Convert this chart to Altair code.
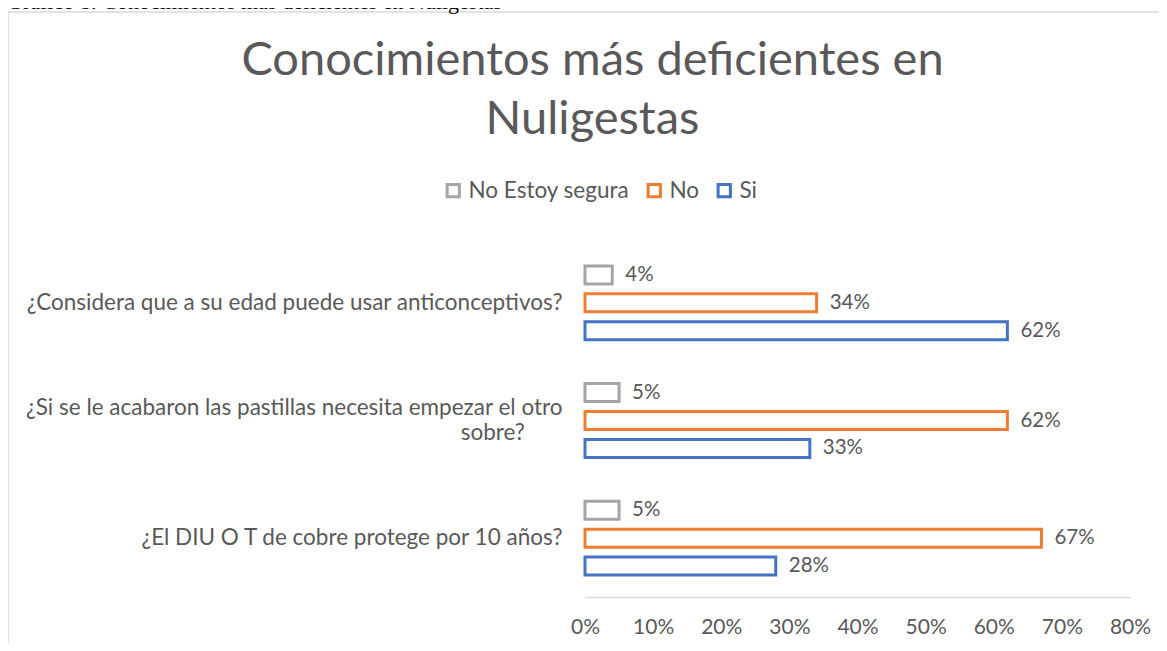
import json
import altair as alt
import pandas as pd

categories = [
    "¿Considera que a su edad puede usar anticonceptivos?",
    "¿Si se le acabaron las pastillas necesita empezar el otro sobre?",
    "¿El DIU O T de cobre protege por 10 años?",
]
series = ["No Estoy segura", "No", "Si"]
no_estoy_segura = [0.04, 0.05, 0.05]
no_vals = [0.34, 0.62, 0.67]
si_vals = [0.62, 0.33, 0.28]
colors = ["#A5A5A5", "#ED7D31", "#4472C4"]
x_ticks = [0.0, 0.1, 0.2, 0.3, 0.4, 0.5, 0.6, 0.7, 0.8]
title_lines = ["Conocimientos más deficientes en", "Nuligestas"]
caption = "Gráfico 8: Conocimientos más deficientes en Nuligestas"

rows = []
for s, vals in zip(series, [no_estoy_segura, no_vals, si_vals]):
    for c, v in zip(categories, vals):
        rows.append({"pregunta": c, "serie": s, "valor": v})
df = pd.DataFrame(rows)

FONT = "Lato"
TXT = "#595959"
FS = 20.5
FS_CAT = 22.5
W, H = 545, 353

wrapped = categories[1]
label_expr = (
    "datum.label == " + json.dumps(wrapped, ensure_ascii=False) + " ? "
    + json.dumps(["¿Si se le acabaron las pastillas necesita empezar el otro",
                  "sobre?" + "\u2007" * 2 + "\u00a0" * 2 + "\u200b"], ensure_ascii=False)
    + " : datum.label"
)
offset_test = "datum.label == " + json.dumps(wrapped, ensure_ascii=False)

y_enc = alt.Y(
    "pregunta:N", sort=categories, title=None,
    scale=alt.Scale(paddingInner=0, paddingOuter=0),
    axis=alt.Axis(domain=False, ticks=False, labelPadding=23, labelFontSize=FS_CAT,
                  labelColor=TXT, labelFont=FONT, labelLimit=0, labelExpr=label_expr,
                  labelLineHeight=25, labelAlign="right", zindex=1,
                  labelOffset={"condition": {"test": offset_test, "value": -13}, "value": 0}),
)
yoff_enc = alt.YOffset("serie:N", sort=series,
                       scale=alt.Scale(paddingInner=0.357, paddingOuter=0.786))
x_enc = alt.X(
    "valor:Q", title=None,
    scale=alt.Scale(domain=[0, 0.8], nice=False),
    axis=alt.Axis(values=x_ticks, format=".0%", grid=False, ticks=False,
                  domainColor="#D9D9D9", domainWidth=1.3, labelPadding=19,
                  labelFontSize=21, labelColor=TXT, labelFont=FONT, zindex=1,
                  labelFlush=False),
)

bars = alt.Chart(df).mark_bar(fill="white", strokeWidth=3).encode(
    x=x_enc, y=y_enc, yOffset=yoff_enc,
    stroke=alt.Stroke("serie:N", sort=series,
                      scale=alt.Scale(domain=series, range=colors),
                      legend=alt.Legend(title=None, orient="none", legendX=-143, legendY=-65,
                                        direction="horizontal", symbolType="square",
                                        symbolSize=150, symbolStrokeWidth=3,
                                        symbolFillColor="white", labelFontSize=FS_CAT,
                                        labelColor=TXT, labelFont=FONT, columnPadding=12,
                                        labelOffset=4, labelLimit=400)),
)

labels = alt.Chart(df).mark_text(align="left", baseline="middle", dx=13, fontSize=FS,
                                  color=TXT, font=FONT).encode(
    x="valor:Q", y=alt.Y("pregunta:N", sort=categories), yOffset=alt.YOffset("serie:N", sort=series),
    text=alt.Text("valor:Q", format=".0%"),
)

frame_df = pd.DataFrame({"k": [1]})
border = alt.Chart(frame_df).mark_rect(filled=False, stroke="#D9D9D9", strokeWidth=1.5).encode(
    x=alt.value(-577), x2=alt.value(640), y=alt.value(-232), y2=alt.value(420),
)
cap = alt.Chart(pd.DataFrame({"t": [caption]})).mark_text(
    align="left", baseline="alphabetic", font="Liberation Serif", fontSize=22, color="black"
).encode(x=alt.value(-578), y=alt.value(-235), text="t:N")

chart = alt.layer(border, cap, bars, labels).properties(
    width=W, height=H,
    autosize=alt.AutoSizeParams(type="none"),
    padding={"left": 577, "top": 236, "right": 29, "bottom": 46},
    background="white",
    title=alt.TitleParams(text=title_lines, fontSize=47, font=FONT, color=TXT,
                          fontWeight="normal", anchor="middle", frame="group",
                          dx=-265, offset=0, dy=153, lineHeight=59),
).configure_view(stroke=None)

chart.save("out.html", embed_options={"renderer": "svg", "actions": False})
